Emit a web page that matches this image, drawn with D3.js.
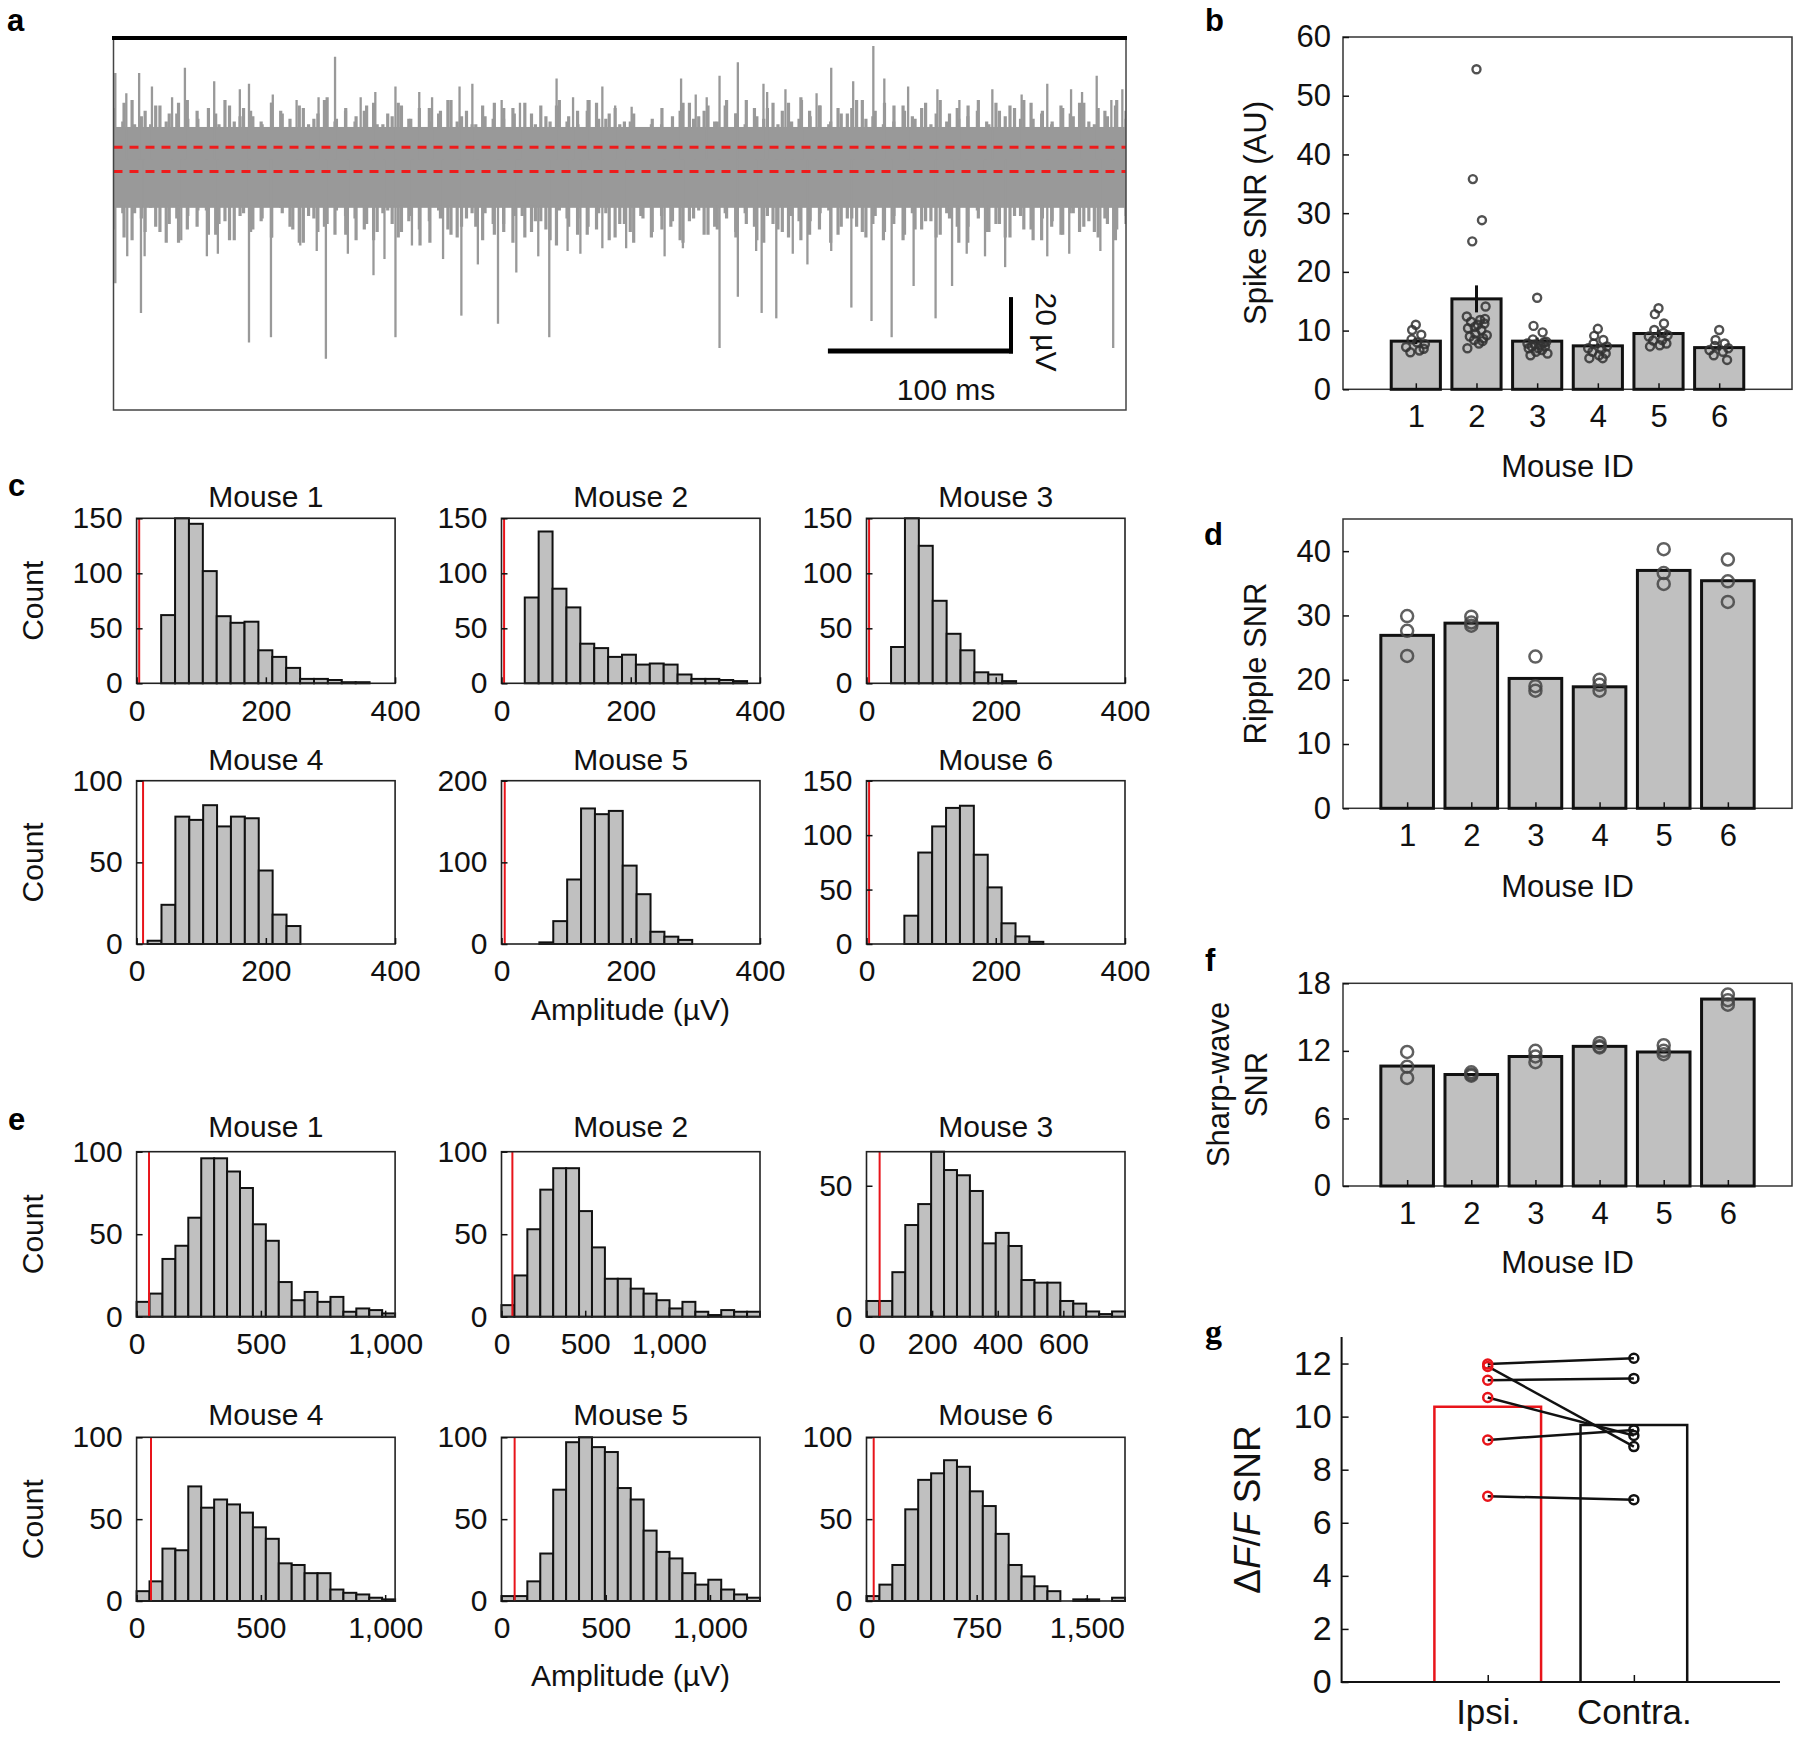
<!DOCTYPE html>
<html>
<head>
<meta charset="utf-8">
<script src="https://cdn.jsdelivr.net/npm/d3@7"></script>
<style>
  body { margin: 0; background: #fff; }
</style>
</head>
<body>
<svg id="fig" width="1800" height="1739"></svg>
<script>
// ---------------- data ----------------
// panel a: raw trace (time in ms, amplitude in uV)
var traceMs = 553;
var thresholds = [4.5, -4.5];
var bandTop = [
  19,14,22,16,13,20,17,21,15,18, 12,17,22,14,19,16,13,21,18,15,
  20,13,17,23,15,19,14,18,21,13, 16,20,15,12,19,17,22,14,18,13,
  16,21,15,19,12,17,20,14,22,16, 13,18,21,15,19,14,17,12,15,13,
  12,18,21,16,20,14,22,17,13,19, 15,21,18,14,23,16,20,13,19,17,
  22,15,18,21,14,20,16,19,13,22, 17,15,20,18,14,21,16,19,22,15,
  18,13,20,17,21,14,19,16,22,18];
var bandBottom = [
  -26,-20,-30,-22,-18,-27,-24,-31,-21,-25, -19,-28,-23,-30,-20,-26,-22,-29,-18,-25,
  -31,-21,-27,-24,-19,-28,-22,-26,-30,-20, -24,-27,-21,-32,-23,-19,-26,-29,-22,-25,
  -20,-28,-24,-31,-21,-27,-23,-30,-19,-25, -22,-28,-26,-20,-29,-24,-31,-22,-27,-21,
  -25,-30,-23,-19,-28,-26,-22,-29,-20,-25, -31,-24,-27,-21,-30,-23,-26,-19,-28,-22,
  -25,-29,-21,-27,-24,-30,-20,-26,-23,-28, -22,-31,-25,-19,-27,-24,-29,-21,-26,-30,
  -22,-25,-28,-20,-27,-23,-29,-24,-26,-21];
var bandTop2 = [
  16,21,13,18,20,14,17,22,15,19, 13,20,16,18,14,21,17,12,19,15,
  22,14,18,16,20,13,17,21,15,19, 14,18,22,16,13,20,15,19,17,21,
  13,16,20,14,18,22,15,17,13,14, 12,13,19,16,21,15,18,14,20,17,
  22,16,19,13,21,15,18,20,14,17, 19,22,16,13,20,18,15,21,17,14,
  19,16,22,13,18,20,15,21,17,14, 19,16,21,13,18,20,15];
var bandBottom2 = [
  -23,-29,-20,-27,-25,-31,-22,-26,-19,-28, -24,-30,-21,-27,-23,-29,-20,-26,-31,-22,
  -25,-28,-21,-30,-24,-27,-19,-29,-23,-26, -31,-22,-28,-25,-20,-30,-24,-27,-21,-29,
  -23,-26,-32,-22,-28,-25,-20,-30,-24,-27, -21,-29,-26,-23,-31,-22,-28,-25,-20,-27,
  -24,-30,-21,-26,-29,-23,-28,-20,-31,-25, -22,-27,-24,-30,-21,-28,-26,-23,-29,-20,
  -25,-31,-22,-27,-24,-29,-21,-26,-30,-23, -28,-20,-25,-27,-22,-30,-24];
var spikesUp = [[1,32],[7,24.5],[14,32],[21,27],[32,23],[39,34],[55,29],[69,26],[74,28],[87,24],
  [100,22],[112,23],[121,38],[135,23],[143,25],[154,27],[167,25],[174,23],[189,27],[196,28],
  [212,22],[222,21],[242,30],[251,23],[260,22],[267,27],[274,20],[283,19.5],[310,30],[318,24],
  [324,23],[331,31],[341,36],[355,28],[357,25],[367,26],[376,22],[384,24.5],[392,34],[404,29],
  [415,42],[421,30],[434,27],[450,26],[462,22],[480,26],[496,24],[510,28],[523,26],[529,25],
  [537,31],[545,22],[551,26]];
var spikesDown = [[1,-46],[7.5,-36],[15,-57],[17,-36],[37,-30],[51,-36],[57,-35],[74,-68],[86,-66],[102,-32],
  [111,-34],[116,-74],[128,-35],[142,-43],[148,-37],[154,-66],[163,-32],[180,-37],[190,-58],[199,-39],
  [210,-61],[220,-42],[232,-36],[238,-66],[248,-34],[255,-35],[267,-33],[280,-33],[301,-36],[311,-33],
  [331,-70],[341,-51],[351,-34],[354,-57],[362,-59],[371,-35],[379,-39],[392,-34],[403,-55],[414,-60],
  [425,-66],[437,-47],[449,-59],[458,-47],[466,-35],[476,-36],[487,-40],[510,-36],[522,-35],[539,-34],
  [546,-70]];

// panel b: spike SNR per mouse
var mouseIds = [1,2,3,4,5,6];
var spikeMean = [8.2, 15.4, 8.2, 7.4, 9.5, 7.1];
var spikeSem = [0.5, 2.3, 0.6, 0.4, 0.6, 0.5];
var spikeSNR = [
  [11.0,10.1,9.3,8.5,7.7,7.2,6.6,6.3,6.9,8.0],
  [54.5,35.8,28.8,25.2,14.1,12.4,11.8,11.5,11.2,11.0,10.4,10.1,9.5,9.2,9.0,8.7,8.4,7.8,7.0,12.0,10.6,8.2],
  [15.6,10.8,9.7,8.5,8.1,7.8,7.5,7.3,7.3,7.0,7.0,6.7,6.4,6.1,5.8,8.0,7.6],
  [10.3,9.1,8.4,7.8,7.3,7.0,6.8,6.4,6.1,5.8,5.3,5.3],
  [13.8,12.8,11.2,10.1,9.2,9.0,8.4,8.3,7.8,7.5,7.3,9.6],
  [10.1,8.4,7.8,7.4,7.0,6.7,6.4,5.8,5.0]];

// panel c: spike amplitude histograms
var mouseNames = ["Mouse 1","Mouse 2","Mouse 3","Mouse 4","Mouse 5","Mouse 6"];
var spikeCounts = [
  [62,150,145,102,61,55,56,30,24,14,4,4,3,1,1],
  [78,138,86,69,36,32,24,26,17,18,17,8,4,4,3,2],
  [33,150,125,75,45,30,10,8,2],
  [2,24,78,76,85,72,78,77,45,18,11],
  [2,28,79,166,159,163,96,61,15,9,5],
  [26,84,108,125,127,82,52,19,7,2]];
var spikeBinStart = [38,36,38,17,58.6,58.6];
var spikeBinWidth = 21.5;
var spikeXMax = 400;
var spikeXTicks = [0,200,400];
var spikeYMax = [150,150,150,100,200,150];
var spikeYTicks = [[0,50,100,150],[0,50,100,150],[0,50,100,150],[0,50,100],[0,100,200],[0,50,100,150]];
var spikeThresh = [4,4,4,10,5,4];

// panel d: ripple SNR
var rippleMean = [26.9, 28.8, 20.2, 18.9, 37.0, 35.4];
var ripplePts = [[29.9,27.6,23.7],[29.8,28.9,28.4],[23.6,19.0,18.3],[20.0,19.2,18.3],[40.3,36.6,34.9],[38.7,35.3,32.1]];

// panel e: ripple amplitude histograms
var rippleCounts = [
  [9,14,35,43,60,96,96,88,78,56,46,21,10,15,9,12,3,5,4,2],
  [7,25,53,77,90,90,64,42,23,23,17,14,10,5,9,3,1,4,3,3],
  [6,6,17,35,43,63,56,54,48,28,32,27,14,13,13,6,5,2,1,2],
  [6,12,32,31,70,57,62,59,54,45,38,23,22,17,17,7,5,4,2,1],
  [3,3,12,29,68,97,100,94,91,69,62,43,30,26,17,10,13,7,4,2],
  [3,10,22,56,74,78,86,82,67,58,41,22,15,9,6,0,1,1,0,2]];
var rippleBinWidth = [52,77.2,39.4,52,62,88];
var rippleXMax = [1040,1544,788,1040,1240,1760];
var rippleXTicks = [[0,500,1000],[0,500,1000],[0,200,400,600],[0,500,1000],[0,500,1000],[0,750,1500]];
var rippleYMax = [100,100,63,100,100,100];
var rippleYTicks = [[0,50,100],[0,50,100],[0,50],[0,50,100],[0,50,100],[0,50,100]];
var rippleThresh = [50,65,40,58,63,49];

// panel f: sharp-wave SNR
var sharpMean = [10.65, 9.9, 11.5, 12.4, 11.9, 16.6];
var sharpPts = [[11.9,10.6,9.6],[10.1,9.9,9.8],[12.0,11.5,11.0],[12.7,12.4,12.3],[12.5,12.0,11.7],[17.0,16.5,16.1]];

// panel g: dF/F SNR, paired
var gCats = ["Ipsi.", "Contra."];
var gMeans = [10.37, 9.68];
var ipsiSNR = [11.98, 11.89, 11.37, 10.72, 9.12, 7.0];
var contraSNR = [12.2, 8.87, 11.44, 9.29, 9.5, 6.87];

// ---------------- drawing ----------------
var FF = '"Liberation Sans", Arial, Helvetica, sans-serif';
var INK = "#111";
var BARFILL = "#c0c0c0";
var svg = d3.select("#fig");
svg.append("rect").attr("width", 1800).attr("height", 1739).attr("fill", "#fff");

function styleAxis(sel, fs) {
  sel.attr("font-family", FF).attr("font-size", fs);
  sel.select(".domain").remove();
  sel.selectAll(".tick line").attr("stroke", INK).attr("stroke-width", 1.5);
  sel.selectAll(".tick text").attr("fill", INK);
}
function label(x, y, txt, fs, rot, anchor) {
  var t = svg.append("text").attr("font-family", FF).attr("font-size", fs).attr("fill", INK)
    .attr("text-anchor", anchor || "middle")
    .attr("transform", "translate(" + x + "," + y + ")" + (rot ? " rotate(" + rot + ")" : ""))
    .text(txt);
  return t;
}
function letter(x, y, s, serif) {
  svg.append("text").attr("x", x).attr("y", y).attr("font-weight", "bold")
    .attr("font-family", serif ? '"Liberation Serif", "DejaVu Serif", serif' : FF)
    .attr("font-size", serif ? 34 : 31).attr("fill", "#000").text(s);
}

// ----- panel a -----
var xA = d3.scaleLinear().domain([0, traceMs]).range([113.5, 1126]);
var yA = d3.scaleLinear().domain([-93, 45]).range([410, 38]);
svg.append("defs").append("clipPath").attr("id", "clipA")
  .append("rect").attr("x", 113.5).attr("y", 38).attr("width", 1012.5).attr("height", 372);
var gA = svg.append("g").attr("clip-path", "url(#clipA)");
var TRACE = "#999";
var coreTop = d3.min(bandTop), coreBottom = d3.max(bandBottom);
gA.append("rect").attr("x", 113.5).attr("width", 1012.5)
  .attr("y", yA(coreTop)).attr("height", yA(coreBottom) - yA(coreTop)).attr("fill", TRACE);
function hairs(tops, bottoms) {
  var t = d3.scaleLinear().domain([0, tops.length - 1]).range([0, traceMs]);
  var tb = d3.scaleLinear().domain([0, bottoms.length - 1]).range([0, traceMs]);
  gA.append("g").selectAll("line").data(tops).join("line")
    .attr("x1", function(d, i) { return xA(t(i)); }).attr("x2", function(d, i) { return xA(t(i)); })
    .attr("y1", yA(coreTop) + 2).attr("y2", function(d) { return yA(d); })
    .attr("stroke", TRACE).attr("stroke-width", 3.2);
  gA.append("g").selectAll("line").data(bottoms).join("line")
    .attr("x1", function(d, i) { return xA(tb(i)); }).attr("x2", function(d, i) { return xA(tb(i)); })
    .attr("y1", yA(coreBottom) - 2).attr("y2", function(d) { return yA(d); })
    .attr("stroke", TRACE).attr("stroke-width", 3.2);
}
hairs(bandTop, bandBottom);
hairs(bandTop2, bandBottom2);
gA.selectAll("line.sp").data(spikesUp.concat(spikesDown)).join("line")
  .attr("x1", function(d) { return xA(d[0]); }).attr("x2", function(d) { return xA(d[0]); })
  .attr("y1", yA(0)).attr("y2", function(d) { return yA(d[1]); })
  .attr("stroke", TRACE).attr("stroke-width", 2.3);
gA.selectAll("line.th").data(thresholds).join("line")
  .attr("x1", 113.5).attr("x2", 1126)
  .attr("y1", function(d) { return yA(d); }).attr("y2", function(d) { return yA(d); })
  .attr("stroke", "#ee1c1c").attr("stroke-width", 3).attr("stroke-dasharray", "9,7");
svg.append("rect").attr("x", 113.5).attr("y", 38).attr("width", 1012.5).attr("height", 372)
  .attr("fill", "none").attr("stroke", "#444").attr("stroke-width", 1.5);
svg.append("line").attr("x1", 112).attr("x2", 1127).attr("y1", 38).attr("y2", 38)
  .attr("stroke", "#000").attr("stroke-width", 4);
// scale bar 100 ms / 20 uV
var sbRight = 1011, sbY = 351;
var sbW = xA(100) - xA(0), sbH = yA(0) - yA(20);
svg.append("line").attr("x1", sbRight - sbW).attr("x2", sbRight + 2).attr("y1", sbY).attr("y2", sbY)
  .attr("stroke", "#000").attr("stroke-width", 5);
svg.append("line").attr("x1", sbRight).attr("x2", sbRight).attr("y1", sbY + 2.5).attr("y2", sbY - sbH)
  .attr("stroke", "#000").attr("stroke-width", 4);
label(946, 400, "100 ms", 30);
label(1036, 332, "20 \u00b5V", 30, 90);
letter(7, 31, "a");

// ----- histograms (c, e) -----
var colX = [136.6, 501.5, 866.5], colW = 258.5;
function drawHist(x0, y0, h, title, counts, start, bw, xMax, yMax, xTicks, yTicks, red, titleGap) {
  var g = svg.append("g");
  var x = d3.scaleLinear().domain([0, xMax]).range([x0, x0 + colW]);
  var y = d3.scaleLinear().domain([0, yMax]).range([y0 + h, y0]);
  g.selectAll("rect.bin").data(counts).join("rect")
    .attr("x", function(d, i) { return x(start + i * bw); })
    .attr("width", function(d, i) { return x(start + (i + 1) * bw) - x(start + i * bw); })
    .attr("y", function(d) { return y(d); })
    .attr("height", function(d) { return y(0) - y(d); })
    .attr("fill", BARFILL).attr("stroke", INK).attr("stroke-width", 2);
  g.append("line").attr("x1", x(red)).attr("x2", x(red)).attr("y1", y0).attr("y2", y0 + h)
    .attr("stroke", "#e8141a").attr("stroke-width", 2);
  g.append("rect").attr("x", x0).attr("y", y0).attr("width", colW).attr("height", h)
    .attr("fill", "none").attr("stroke", "#222").attr("stroke-width", 1.6);
  g.append("g").attr("transform", "translate(" + x0 + ",0)")
    .call(d3.axisLeft(y).tickValues(yTicks).tickSize(-6).tickPadding(14)).call(styleAxis, 30);
  g.append("g").attr("transform", "translate(0," + (y0 + h) + ")")
    .call(d3.axisBottom(x).tickValues(xTicks).tickFormat(d3.format(",")).tickSize(-6).tickPadding(16))
    .call(styleAxis, 30);
  label(x0 + colW / 2, y0 - titleGap, title, 30);
}
var rowsC = [[518.3, 165], [780.7, 163.3]];
var rowsE = [[1151.7, 165], [1437.3, 163.7]];
mouseNames.forEach(function(name, i) {
  var r = Math.floor(i / 3), c = i % 3;
  drawHist(colX[c], rowsC[r][0], rowsC[r][1], name, spikeCounts[i], spikeBinStart[i], spikeBinWidth,
    spikeXMax, spikeYMax[i], spikeXTicks, spikeYTicks[i], spikeThresh[i], 11);
  drawHist(colX[c], rowsE[r][0], rowsE[r][1], name, rippleCounts[i], 0, rippleBinWidth[i],
    rippleXMax[i], rippleYMax[i], rippleXTicks[i], rippleYTicks[i], rippleThresh[i], r ? 12 : 15);
});
[rowsC[0], rowsC[1], rowsE[0], rowsE[1]].forEach(function(r) {
  label(43, r[0] + r[1] / 2, "Count", 30, -90);
});
label(630.5, 1020, "Amplitude (\u00b5V)", 30);
label(630.5, 1686, "Amplitude (\u00b5V)", 30);
letter(8, 496, "c");
letter(8, 1130, "e");

// ----- bar panels (b, d, f) -----
var JIT = [0, -0.06, 0.09, -0.07, 0.15, -0.16, 0.06, -0.09, 0.13, 0.02, -0.14, 0.08, -0.02, 0.17, -0.11, 0.11, -0.04, 0.04, -0.15, 0.14, -0.03, 0.1];
function barPanel(top, bottom, xDom, yMax, yTicks, means, barFrac, padX) {
  var x = d3.scaleLinear().domain(xDom).range([1343, 1792]);
  var y = d3.scaleLinear().domain([0, yMax]).range([bottom, top]);
  var g = svg.append("g");
  var bw = (x(1) - x(0)) * barFrac;
  g.append("rect").attr("x", 1343).attr("y", top).attr("width", 449).attr("height", bottom - top)
    .attr("fill", "none").attr("stroke", "#333").attr("stroke-width", 1.5);
  g.selectAll("rect.bar").data(means).join("rect")
    .attr("x", function(d, i) { return x(mouseIds[i]) - bw / 2; })
    .attr("width", bw)
    .attr("y", function(d) { return y(d); })
    .attr("height", function(d) { return y(0) - y(d); })
    .attr("fill", BARFILL).attr("stroke", INK).attr("stroke-width", 3);
  g.append("g").attr("transform", "translate(1343,0)")
    .call(d3.axisLeft(y).tickValues(yTicks).tickSize(-6).tickPadding(12)).call(styleAxis, 31);
  g.append("g").attr("transform", "translate(0," + bottom + ")")
    .call(d3.axisBottom(x).tickValues(mouseIds).tickFormat(d3.format("d")).tickSize(-6).tickPadding(padX))
    .call(styleAxis, 31);
  return { x: x, y: y, g: g };
}

// b
var pb = barPanel(37, 389.3, [-0.2, 7.2], 60, [0, 10, 20, 30, 40, 50, 60], spikeMean, 0.81, 16);
pb.g.selectAll("line.err").data(spikeMean).join("line")
  .attr("x1", function(d, i) { return pb.x(mouseIds[i]); }).attr("x2", function(d, i) { return pb.x(mouseIds[i]); })
  .attr("y1", function(d, i) { return pb.y(d - spikeSem[i]); })
  .attr("y2", function(d, i) { return pb.y(d + spikeSem[i]); })
  .attr("stroke", INK).attr("stroke-width", 3);
spikeSNR.forEach(function(vals, m) {
  var unit = pb.x(1) - pb.x(0);
  pb.g.selectAll("circle.m" + m).data(vals).join("circle")
    .attr("cx", function(d, i) { return pb.x(mouseIds[m]) + JIT[i % JIT.length] * unit; })
    .attr("cy", function(d) { return pb.y(d); })
    .attr("r", 4).attr("fill", "none").attr("stroke", "#333").attr("stroke-width", 2.4)
    .attr("stroke-opacity", 0.85);
});
label(1266, 213, "Spike SNR (AU)", 31, -90);
label(1567.5, 477, "Mouse ID", 31);
letter(1205, 31, "b");

// d
var pd = barPanel(519, 808.3, [0, 7], 45, [0, 10, 20, 30, 40], rippleMean, 0.82, 16);
ripplePts.forEach(function(vals, m) {
  pd.g.selectAll("circle.m" + m).data(vals).join("circle")
    .attr("cx", pd.x(mouseIds[m])).attr("cy", function(d) { return pd.y(d); })
    .attr("r", 6).attr("fill", "none").attr("stroke", "#444").attr("stroke-width", 2.5)
    .attr("stroke-opacity", 0.85);
});
label(1266, 663.5, "Ripple SNR", 31, -90);
label(1567.5, 897, "Mouse ID", 31);
letter(1204, 545, "d");

// f
var pf = barPanel(983.3, 1186, [0, 7], 18, [0, 6, 12, 18], sharpMean, 0.82, 16);
sharpPts.forEach(function(vals, m) {
  pf.g.selectAll("circle.m" + m).data(vals).join("circle")
    .attr("cx", pf.x(mouseIds[m])).attr("cy", function(d) { return pf.y(d); })
    .attr("r", 6).attr("fill", "none").attr("stroke", "#444").attr("stroke-width", 2.5)
    .attr("stroke-opacity", 0.85);
});
label(1229, 1084.5, "Sharp-wave", 31, -90);
label(1267, 1084.5, "SNR", 31, -90);
label(1567.5, 1273, "Mouse ID", 31);
letter(1205, 971, "f");

// ----- panel g -----
var xG = d3.scaleLinear().domain([0, 3]).range([1341.6, 1780]);
var yG = d3.scaleLinear().domain([0, 13]).range([1682, 1337]);
var gG = svg.append("g");
var gbw = (xG(1) - xG(0)) * 0.73;
var gCols = ["#e8141a", INK];
gG.selectAll("path.gbar").data(gMeans).join("path")
  .attr("d", function(d, i) {
    var x0 = xG(i + 1) - gbw / 2, x1 = xG(i + 1) + gbw / 2;
    return "M" + x0 + "," + yG(0) + "V" + yG(d) + "H" + x1 + "V" + yG(0);
  })
  .attr("fill", "none").attr("stroke", function(d, i) { return gCols[i]; }).attr("stroke-width", 2.5);
gG.selectAll("line.pair").data(ipsiSNR).join("line")
  .attr("x1", xG(1)).attr("x2", xG(2))
  .attr("y1", function(d) { return yG(d); })
  .attr("y2", function(d, i) { return yG(contraSNR[i]); })
  .attr("stroke", INK).attr("stroke-width", 2.5);
gG.selectAll("circle.ip").data(ipsiSNR).join("circle")
  .attr("cx", xG(1)).attr("cy", function(d) { return yG(d); }).attr("r", 4.5)
  .attr("fill", "none").attr("stroke", "#e8141a").attr("stroke-width", 2.5);
gG.selectAll("circle.co").data(contraSNR).join("circle")
  .attr("cx", xG(2)).attr("cy", function(d) { return yG(d); }).attr("r", 4.5)
  .attr("fill", "none").attr("stroke", INK).attr("stroke-width", 2.5);
gG.append("g").attr("transform", "translate(1341.6,0)")
  .call(d3.axisLeft(yG).tickValues([0, 2, 4, 6, 8, 10, 12]).tickSize(-7).tickPadding(10)).call(styleAxis, 34);
gG.append("g").attr("transform", "translate(0,1682)")
  .call(d3.axisBottom(xG).tickValues([1, 2]).tickFormat(function(d) { return gCats[d - 1]; })
    .tickSize(-7).tickPadding(17)).call(styleAxis, 35);
gG.append("path").attr("d", "M1341.6,1337V1682H1780")
  .attr("fill", "none").attr("stroke", INK).attr("stroke-width", 2);
var gl = label(1260, 1509.5, "", 37, -90);
gl.append("tspan").text("\u0394");
gl.append("tspan").attr("font-style", "italic").text("F");
gl.append("tspan").text("/");
gl.append("tspan").attr("font-style", "italic").text("F");
gl.append("tspan").text(" SNR");
letter(1205, 1343, "g", true);
</script>
</body>
</html>
